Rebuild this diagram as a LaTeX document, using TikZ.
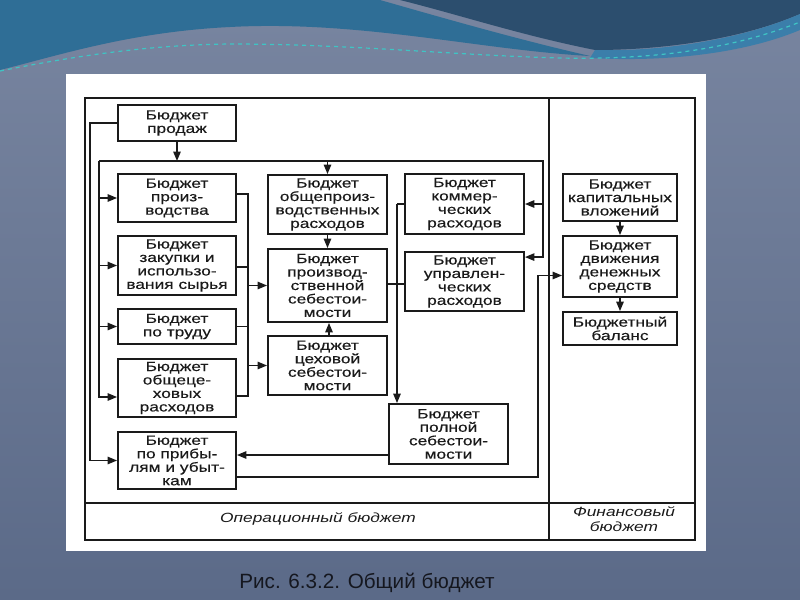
\documentclass[tikz,border=0pt]{standalone}
\usepackage{fontspec}
\setmainfont{Liberation Sans}
\newfontfamily\bfont[FakeStretch=1.3,FakeBold=0.3]{Liberation Sans}
\newfontfamily\lfont[FakeStretch=1.3]{Liberation Sans}
\usetikzlibrary{arrows.meta,calc}
\definecolor{bgtop}{HTML}{7885A0}
\definecolor{bgbot}{HTML}{5B6A88}
\definecolor{waveblue}{HTML}{2F6E96}
\definecolor{navy}{HTML}{2C4E6E}
\definecolor{mauve}{HTML}{7D86A0}
\definecolor{lightband}{HTML}{3B7EAA}
\definecolor{tealc}{HTML}{3FC4C4}
\definecolor{ink}{HTML}{1A1A1A}
\definecolor{captcol}{HTML}{15171F}
\begin{document}
\begin{tikzpicture}[x=0.75pt,y=-0.75pt,
  box/.style={draw=ink, line width=1.4pt, fill=white, inner sep=0pt, text=ink,
    font=\bfont\fontsize{10}{10.1}\selectfont, align=center},
  sz/.style 2 args={minimum width=#1*0.75pt, minimum height=#2*0.75pt},
  conn/.style={draw=ink, line width=1.1pt},
  arr/.style={conn, -{Triangle[length=7pt,width=5.5pt]}},
  frame/.style={draw=ink, line width=1.2pt},
  lbl/.style={text=ink, font=\lfont\itshape\fontsize{10}{11}\selectfont, align=center}]
\useasboundingbox (0,0) rectangle (800,600);
% background
\shade[top color=bgtop, bottom color=bgbot] (0,0) rectangle (800,600);
\fill[waveblue] (0,0) -- (380,0) .. controls (450,20) and (520,40) .. (590,56)
  .. controls (480,50) and (360,20) .. (230,27) .. controls (130,32) and (60,55) .. (0,70) -- cycle;
\fill[navy] (400,0) -- (800,0) -- (800,14) .. controls (740,40) and (660,50) .. (595,50)
  .. controls (520,35) and (460,15) .. (400,0) -- cycle;
\fill[lightband] (595,50) .. controls (660,52) and (740,40) .. (800,14) -- (800,30)
  .. controls (740,55) and (660,62) .. (590,58) -- cycle;
\draw[tealc, dashed, line width=0.9pt] (0,71) .. controls (80,55) and (150,45) .. (230,44)
  .. controls (350,44) and (450,55) .. (560,58) .. controls (650,60) and (730,50) .. (800,22);
% white panel
\fill[white] (66,74) rectangle (706,551);
% frame
\draw[frame] (85,98) rectangle (695,540);
\draw[frame] (85,503) -- (695,503);
\draw[frame] (549,98) -- (549,540);
\node[lbl] (opl) at (318,519) {Операционный бюджет};
\node[lbl] (fin) at (624,519) {Финансовый\\бюджет};
% boxes
\node[box, sz={118}{36}] (prod) at (177,123) {Бюджет\\продаж};
\node[box, sz={118}{48}] (proizv) at (177,198) {Бюджет\\произ-\\водства};
\node[box, sz={118}{59}] (zak) at (177,265.5) {Бюджет\\закупки и\\использо-\\вания сырья};
\node[box, sz={118}{35}] (trud) at (177,326.5) {Бюджет\\по труду};
\node[box, sz={118}{58}] (obsc) at (177,388) {Бюджет\\общеце-\\ховых\\расходов};
\node[box, sz={118}{57}] (prib) at (177,460.5) {Бюджет\\по прибы-\\лям и убыт-\\кам};
\node[box, sz={119}{59}] (opr) at (327.5,204.5) {Бюджет\\общепроиз-\\водственных\\расходов};
\node[box, sz={119}{73}] (pss) at (327.5,285.5) {Бюджет\\производ-\\ственной\\себестои-\\мости};
\node[box, sz={119}{59}] (cekh) at (327.5,365.5) {Бюджет\\цеховой\\себестои-\\мости};
\node[box, sz={119}{60}] (komm) at (464.5,204) {Бюджет\\коммер-\\ческих\\расходов};
\node[box, sz={119}{59}] (upr) at (464.5,281.5) {Бюджет\\управлен-\\ческих\\расходов};
\node[box, sz={119}{60}] (poln) at (448.5,434) {Бюджет\\полной\\себестои-\\мости};
\node[box, sz={114}{47}] (kap) at (620,197.5) {Бюджет\\капитальных\\вложений};
\node[box, sz={114}{61}] (dds) at (620,266.5) {Бюджет\\движения\\денежных\\средств};
\node[box, sz={114}{33}] (bal) at (620,328.5) {Бюджетный\\баланс};
% connector helpers
\coordinate (tl) at (99,161);
\coordinate (tr) at (543,161);
\coordinate (v) at (248,194);
\coordinate (v3) at (397,204);
\coordinate (uprA) at ($(upr.north east)+(0,6)$);
% sales -> profit
\draw[arr] (prod.west) -- ++(-27,0) |- (prib.west);
% sales -> bus
\draw[arr] (prod.south) -- (prod.south |- tl);
\draw[arr] (tl) -- (tr) |- (uprA);
\draw[arr] (tr |- komm.east) -- (komm.east);
\draw[arr] (opr.north |- tl) -- (opr.north);
\draw[conn] (tl) -- (tl |- 0,397);
\draw[arr] (tl |- proizv.west) -- (proizv.west);
\draw[arr] (tl |- zak.west) -- (zak.west);
\draw[arr] (tl |- trud.west) -- (trud.west);
\draw[arr] ($(obsc.west)+(-19,9)$) -- ($(obsc.west)+(0,9)$);
% left column -> middle
\draw[conn] ($(proizv.east)+(0,-4)$) -- (v) -- (v |- 0,396) -- ($(obsc.east)+(0,8)$);
\draw[conn] ($(zak.east)+(0,1.5)$) -- ($(v |- zak.east)+(0,1.5)$);
\draw[conn] (trud.east) -- (v |- trud.east);
\draw[arr] (v |- pss.west) -- (pss.west);
\draw[arr] (v |- cekh.west) -- (cekh.west);
\draw[arr] (opr.south) -- (pss.north);
\draw[arr] ($(cekh.north)+(1.5,0)$) -- ($(pss.south)+(1.5,0)$);
% cost bus
\draw[conn] (komm.west) -- (v3 |- komm.west);
\draw[arr] (v3) -- (v3 |- poln.north);
\draw[conn] ($(pss.east)+(0,-1.5)$) -- ($(pss.east -| upr.west)+(0,-1.5)$);
% full cost -> profit
\draw[arr] ($(poln.west)+(0,21)$) coordinate (p1) -- (p1 -| prib.east);
% profit -> cash
\draw[arr] ($(prib.east)+(0,16.5)$) -- (538,477) |- ($(dds.west)+(0,9)$);
% finance
\draw[arr] (kap.south) -- (dds.north);
\draw[arr] (dds.south) -- (bal.north);
% caption
\node[text=captcol, font=\fontsize{15.5}{17}\selectfont] (cap) at (367,583) {Рис. 6.3.2. Общий бюджет};
\end{tikzpicture}
\end{document}
